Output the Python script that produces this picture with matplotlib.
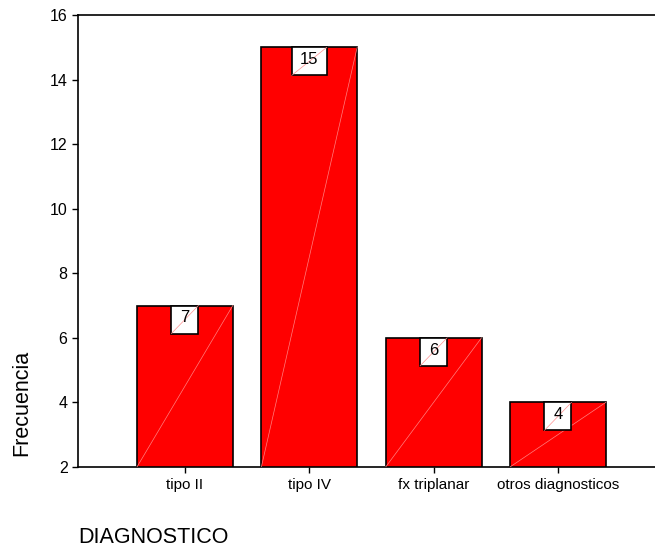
import matplotlib.pyplot as plt
from matplotlib.patches import Rectangle

plt.rcParams['font.family'] = ['Liberation Sans', 'DejaVu Sans']

categorias = ['tipo II', 'tipo IV', 'fx triplanar', 'otros diagnosticos']
frecuencias = [7, 15, 6, 4]
yticks = [2, 4, 6, 8, 10, 12, 14, 16]

fig = plt.figure(figsize=(6.55, 5.48), dpi=100)
ax = fig.add_axes([0.119, 0.148, 0.881, 0.8245])

ymin, ymax = 2, 16
ancho = 0.77
xs = range(len(categorias))
ax.bar(xs, frecuencias, width=ancho, color='#ff0000', edgecolor='black', linewidth=1.2, zorder=2)

# tamaño de las cajas de etiqueta (en unidades de datos)
px_x = 0.881 * 655 / 4.64
px_y = 0.8245 * 548 / (ymax - ymin)
alto_caja = 28 / px_y
for x, v in zip(xs, frecuencias):
    # línea diagonal tenue dentro de la barra
    ax.plot([x - ancho / 2, x + ancho / 2], [ymin, v], color='#ff8080', lw=0.5, zorder=3)
    ancho_caja = (27 if v < 10 else 35) / px_x
    x0 = x - ancho_caja / 2
    y0 = v - alto_caja
    ax.add_patch(Rectangle((x0, y0), ancho_caja, alto_caja, facecolor='white',
                           edgecolor='black', linewidth=1.2, zorder=4))
    ax.plot([x0, x0 + ancho_caja], [y0, v], color='#ff9090', lw=0.5, zorder=5)
    ax.text(x, y0 + alto_caja * 0.56, str(v), ha='center', va='center', fontsize=12, zorder=6)

ax.set_xlim(-0.86, 3.78)
ax.set_ylim(ymin, ymax)
ax.set_xticks(list(xs))
ax.set_xticklabels(categorias, fontsize=11)
ax.set_yticks(yticks)
ax.tick_params(axis='y', labelsize=11.5, length=4, width=1)
ax.tick_params(axis='x', length=4, width=1, pad=4)
ax.spines['right'].set_visible(False)
for s in ['left', 'top', 'bottom']:
    ax.spines[s].set_linewidth(1.2)

fig.text(0.033, 0.265, 'Frecuencia', rotation=90, ha='center', va='center', fontsize=15.5)
fig.text(0.12, 0.0, 'DIAGNOSTICO', ha='left', va='bottom', fontsize=15.5)

fig.savefig('out.png', dpi=100)
